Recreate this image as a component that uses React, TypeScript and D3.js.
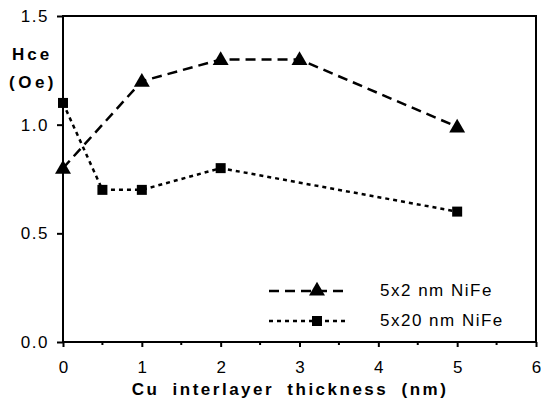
import React, { useEffect, useRef } from "react";
import * as d3 from "d3";

// 5x2 nm NiFe series (triangles)
const thick2 = [0, 1, 2, 3, 5];
const hce2 = [0.8, 1.2, 1.3, 1.3, 0.99];
// 5x20 nm NiFe series (squares)
const thick20 = [0, 0.5, 1, 2, 5];
const hce20 = [1.1, 0.7, 0.7, 0.8, 0.6];

const xTicks = [0, 1, 2, 3, 4, 5, 6];
const xMinor = [0.5, 1.5, 2.5, 3.5, 4.5, 5.5];
const yTicks = [0, 0.5, 1.0, 1.5];
const legendLabels = ["5x2 nm NiFe", "5x20 nm NiFe"];

const width = 541;
const height = 401;
const margin = { top: 16, right: 5, bottom: 59, left: 63 };
const font = "'Liberation Sans', Arial, Helvetica, sans-serif";

export default function App() {
  const ref = useRef<SVGSVGElement>(null);

  useEffect(() => {
    const svg = d3.select(ref.current);
    svg.selectAll("*").remove();

    const x = d3
      .scaleLinear()
      .domain([0, 6])
      .range([margin.left, width - margin.right]);
    const y = d3
      .scaleLinear()
      .domain([0, 1.5])
      .range([height - margin.bottom, margin.top]);

    // frame
    svg
      .append("rect")
      .attr("x", x(0))
      .attr("y", y(1.5))
      .attr("width", x(6) - x(0))
      .attr("height", y(0) - y(1.5))
      .attr("fill", "none")
      .attr("stroke", "#000")
      .attr("stroke-width", 2);

    // y axis
    const gy = svg
      .append("g")
      .attr("transform", `translate(${x(0)},0)`)
      .call(
        d3
          .axisLeft(y)
          .tickValues(yTicks)
          .tickFormat(d3.format(".1f"))
          .tickSize(6)
          .tickPadding(8)
      );
    gy.select(".domain").remove();
    gy.selectAll("line").attr("stroke-width", 2);
    gy.selectAll("text")
      .style("font", `17px ${font}`)
      .style("letter-spacing", "1.5px")
      .attr("fill", "#000");

    // x axis
    const gx = svg
      .append("g")
      .attr("transform", `translate(0,${y(0)})`)
      .call(
        d3
          .axisBottom(x)
          .tickValues(xTicks)
          .tickFormat(d3.format("d"))
          .tickSize(5)
          .tickPadding(14)
      );
    gx.select(".domain").remove();
    gx.selectAll("line").attr("stroke-width", 2);
    gx.selectAll("text")
      .style("font", `17px ${font}`)
      .attr("fill", "#000");

    svg
      .append("g")
      .selectAll("line")
      .data(xMinor)
      .enter()
      .append("line")
      .attr("x1", d => x(d))
      .attr("x2", d => x(d))
      .attr("y1", y(0))
      .attr("y2", y(0) + 3)
      .attr("stroke", "#000")
      .attr("stroke-width", 2);

    // axis titles
    svg
      .append("text")
      .attr("x", 290)
      .attr("y", 395)
      .attr("text-anchor", "middle")
      .style("font", `bold 17px ${font}`)
      .style("letter-spacing", "2.5px")
      .style("word-spacing", "6px")
      .text("Cu interlayer thickness (nm)");

    svg
      .append("text")
      .attr("x", 12)
      .attr("y", 60)
      .style("font", `bold 17px ${font}`)
      .style("letter-spacing", "3px")
      .text("Hce");
    svg
      .append("text")
      .attr("x", 9)
      .attr("y", 88)
      .style("font", `bold 17px ${font}`)
      .style("letter-spacing", "3.5px")
      .text("(Oe)");

    const line = d3
      .line<[number, number]>()
      .x(d => x(d[0]))
      .y(d => y(d[1]));

    const tri = d3.symbol().type(d3.symbolTriangle).size(110);
    const sq = d3.symbol().type(d3.symbolSquare).size(100);

    const s2 = thick2.map((t, i) => [t, hce2[i]] as [number, number]);
    const s20 = thick20.map((t, i) => [t, hce20[i]] as [number, number]);

    svg
      .append("path")
      .attr("d", line(s20))
      .attr("fill", "none")
      .attr("stroke", "#000")
      .attr("stroke-width", 2.5)
      .attr("stroke-dasharray", "4,4");
    svg
      .append("path")
      .attr("d", line(s2))
      .attr("fill", "none")
      .attr("stroke", "#000")
      .attr("stroke-width", 2.5)
      .attr("stroke-dasharray", "10,6");

    svg
      .append("g")
      .selectAll("path")
      .data(s20)
      .enter()
      .append("path")
      .attr("d", sq)
      .attr("transform", d => `translate(${x(d[0])},${y(d[1])})`)
      .attr("fill", "#000");
    svg
      .append("g")
      .selectAll("path")
      .data(s2)
      .enter()
      .append("path")
      .attr("d", tri)
      .attr("transform", d => `translate(${x(d[0])},${y(d[1]) + 1})`)
      .attr("fill", "#000");

    // legend
    const legend = svg.append("g");
    const rows = [
      { y: 291, dash: "10,6", sym: tri, label: legendLabels[0] },
      { y: 321, dash: "4,4", sym: sq, label: legendLabels[1] },
    ];
    rows.forEach(r => {
      legend
        .append("line")
        .attr("x1", 269)
        .attr("x2", 348)
        .attr("y1", r.y)
        .attr("y2", r.y)
        .attr("stroke", "#000")
        .attr("stroke-width", 2.5)
        .attr("stroke-dasharray", r.dash);
      legend
        .append("path")
        .attr("d", r.sym)
        .attr("transform", `translate(317,${r.y})`)
        .attr("fill", "#000");
      legend
        .append("text")
        .attr("x", 380)
        .attr("y", r.y + 5)
        .style("font", `17px ${font}`)
        .style("letter-spacing", "1.5px")
        .text(r.label);
    });
  }, []);

  return (
    <svg
      ref={ref}
      width={width}
      height={height}
      style={{ position: "absolute", left: 0, top: 0, background: "#fff" }}
    />
  );
}
